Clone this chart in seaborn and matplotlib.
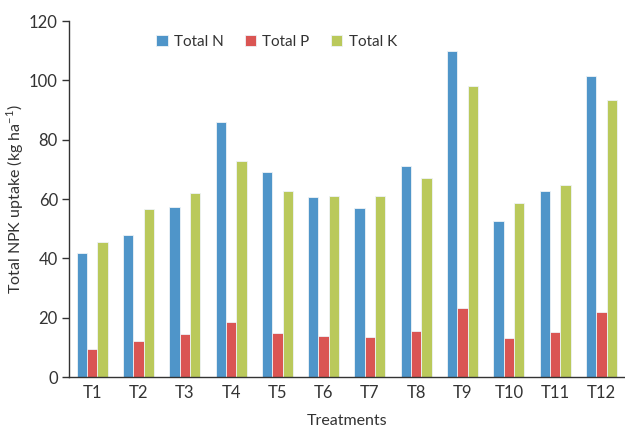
import pandas as pd
import matplotlib
matplotlib.use("Agg")
import matplotlib.pyplot as plt
import matplotlib.ticker as mticker
import seaborn as sns

# values
treatments = ["T1", "T2", "T3", "T4", "T5", "T6", "T7", "T8", "T9", "T10", "T11", "T12"]
total_n = [41.8, 47.9, 57.4, 86.1, 69.0, 60.6, 57.0, 71.1, 110.0, 52.6, 62.8, 101.3]
total_p = [9.5, 12.3, 14.5, 18.5, 14.8, 13.9, 13.5, 15.6, 23.2, 13.1, 15.3, 21.8]
total_k = [45.4, 56.6, 62.1, 72.9, 62.8, 60.9, 60.9, 67.1, 98.0, 58.8, 64.6, 93.4]
series = ["Total N", "Total P", "Total K"]
colors = ["#4F95C9", "#DA5553", "#BAC95B"]

df = pd.DataFrame({"Treatment": treatments, "Total N": total_n,
                   "Total P": total_p, "Total K": total_k})
long_df = df.melt(id_vars="Treatment", var_name="Nutrient", value_name="Uptake")

sns.set_style("white")
plt.rcParams["font.family"] = ["Lato", "DejaVu Sans"]
plt.rcParams["mathtext.fontset"] = "custom"
plt.rcParams["mathtext.rm"] = "Lato"
text_col = "#333333"

fig = plt.figure(figsize=(6.25, 4.29), dpi=100)
ax = fig.add_axes([0.1104, 0.1212, 0.889, 0.8298])

sns.barplot(data=long_df, x="Treatment", y="Uptake", hue="Nutrient",
            order=treatments, hue_order=series, palette=colors, saturation=1,
            width=0.67, gap=0, linewidth=0.6, edgecolor="#eef3f7", ax=ax)

ax.set_ylim(0, 120)
ax.set_xlim(-0.5, len(treatments) - 0.5)
ax.yaxis.set_major_locator(mticker.MultipleLocator(20))

# tick marks sit between the groups, labels in the middle
ax.set_xticks(range(len(treatments)))
ax.set_xticklabels(treatments)
ax.set_xticks([i - 0.5 for i in range(len(treatments) + 1)], minor=True)
ax.tick_params(axis="x", which="major", length=0, pad=6, labelsize=12, colors=text_col)
ax.tick_params(axis="x", which="minor", length=5, width=1, color=text_col)
ax.tick_params(axis="y", length=5, width=1, color=text_col, labelsize=12,
               labelcolor=text_col, left=True, pad=3)

for side in ["top", "right"]:
    ax.spines[side].set_visible(False)
for side in ["left", "bottom"]:
    ax.spines[side].set_color(text_col)
    ax.spines[side].set_linewidth(1)

ax.set_xlabel("Treatments", fontsize=11.5, color=text_col, labelpad=9)
ax.set_ylabel("Total NPK uptake (kg ha$^{-1}$)", fontsize=11.5, color=text_col, labelpad=2)

leg = ax.legend(loc="upper left", bbox_to_anchor=(0.132, 1.0), ncol=3, frameon=False,
                handlelength=0.75, handleheight=0.75, columnspacing=1.4,
                handletextpad=0.4, fontsize=11)
for t in leg.get_texts():
    t.set_color(text_col)

fig.savefig("out.png", dpi=100)
